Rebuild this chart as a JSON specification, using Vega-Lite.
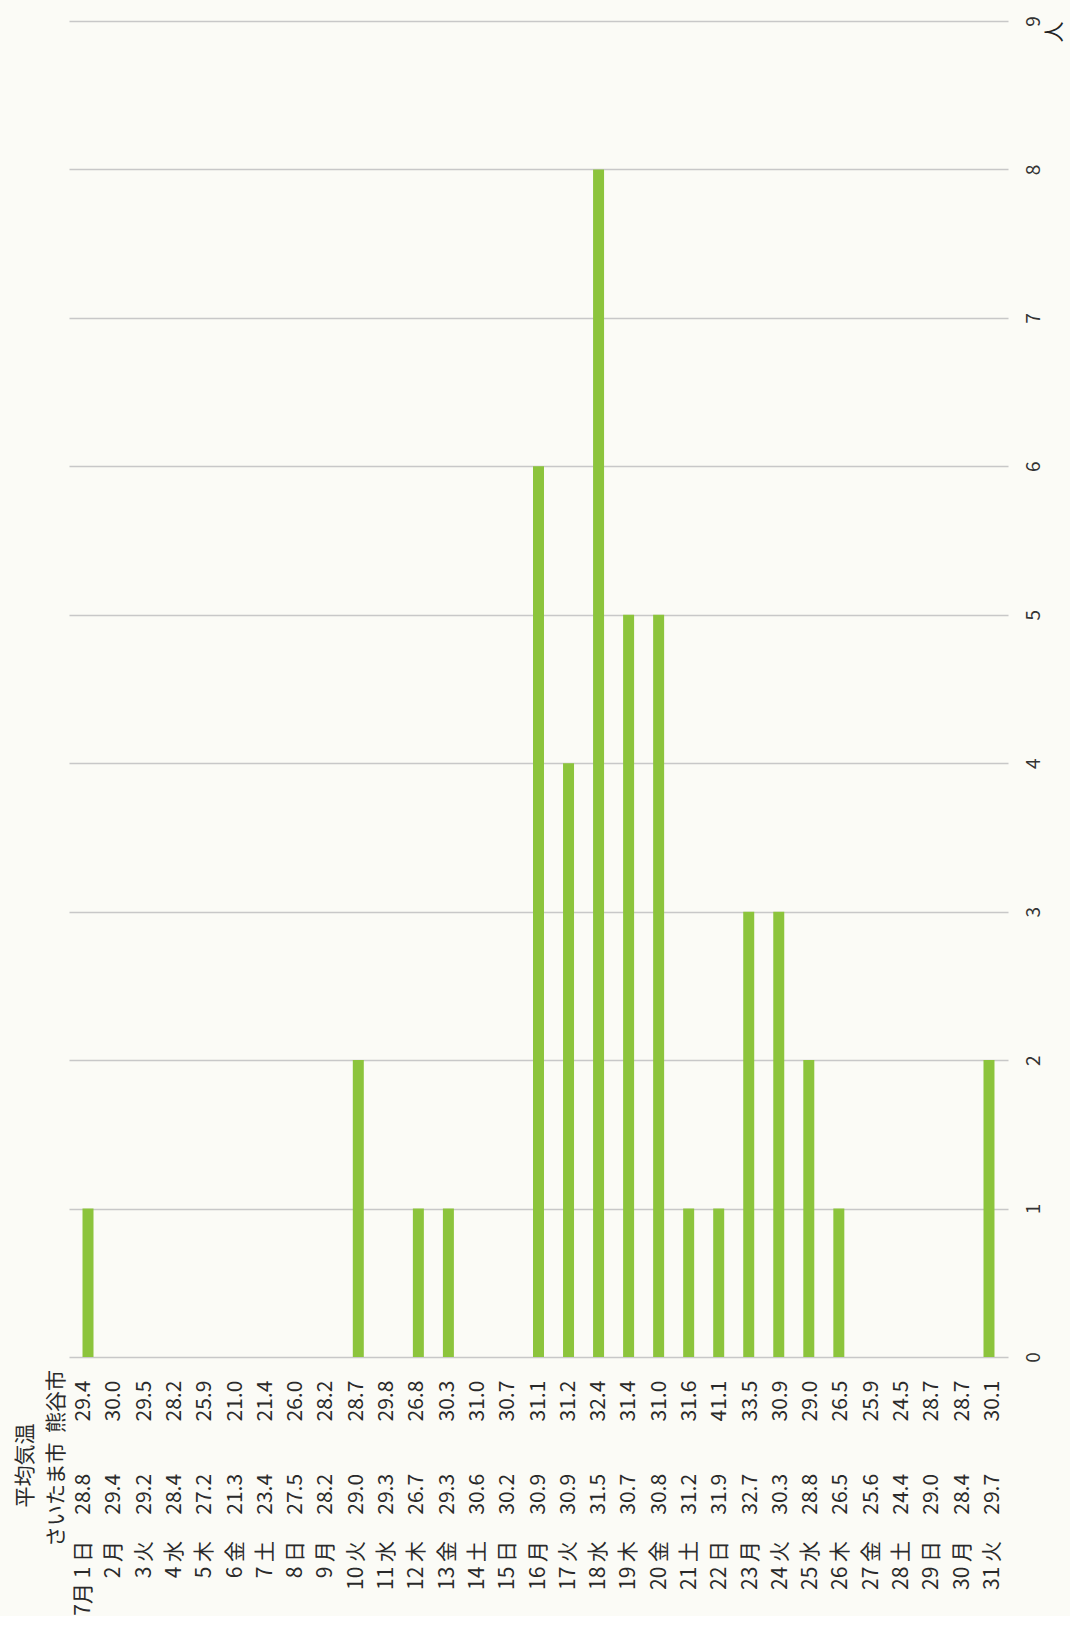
{
  "$schema": "https://vega.github.io/schema/vega-lite/v6.json",
  "background": "#fbfbf6",
  "padding": {"left": 13, "top": 15, "right": 8, "bottom": 0},
  "bounds": "flush",
  "spacing": 0,
  "config": {"view": {"stroke": null}, "font": "Noto Sans CJK JP"},
  "data": {"values": [
    {"d": 1, "label": "7月 1 日", "n": 1, "さいたま市": 28.8, "熊谷市": 29.4},
    {"d": 2, "label": "2 月", "n": 0, "さいたま市": 29.4, "熊谷市": 30.0},
    {"d": 3, "label": "3 火", "n": 0, "さいたま市": 29.2, "熊谷市": 29.5},
    {"d": 4, "label": "4 水", "n": 0, "さいたま市": 28.4, "熊谷市": 28.2},
    {"d": 5, "label": "5 木", "n": 0, "さいたま市": 27.2, "熊谷市": 25.9},
    {"d": 6, "label": "6 金", "n": 0, "さいたま市": 21.3, "熊谷市": 21.0},
    {"d": 7, "label": "7 土", "n": 0, "さいたま市": 23.4, "熊谷市": 21.4},
    {"d": 8, "label": "8 日", "n": 0, "さいたま市": 27.5, "熊谷市": 26.0},
    {"d": 9, "label": "9 月", "n": 0, "さいたま市": 28.2, "熊谷市": 28.2},
    {"d": 10, "label": "10 火", "n": 2, "さいたま市": 29.0, "熊谷市": 28.7},
    {"d": 11, "label": "11 水", "n": 0, "さいたま市": 29.3, "熊谷市": 29.8},
    {"d": 12, "label": "12 木", "n": 1, "さいたま市": 26.7, "熊谷市": 26.8},
    {"d": 13, "label": "13 金", "n": 1, "さいたま市": 29.3, "熊谷市": 30.3},
    {"d": 14, "label": "14 土", "n": 0, "さいたま市": 30.6, "熊谷市": 31.0},
    {"d": 15, "label": "15 日", "n": 0, "さいたま市": 30.2, "熊谷市": 30.7},
    {"d": 16, "label": "16 月", "n": 6, "さいたま市": 30.9, "熊谷市": 31.1},
    {"d": 17, "label": "17 火", "n": 4, "さいたま市": 30.9, "熊谷市": 31.2},
    {"d": 18, "label": "18 水", "n": 8, "さいたま市": 31.5, "熊谷市": 32.4},
    {"d": 19, "label": "19 木", "n": 5, "さいたま市": 30.7, "熊谷市": 31.4},
    {"d": 20, "label": "20 金", "n": 5, "さいたま市": 30.8, "熊谷市": 31.0},
    {"d": 21, "label": "21 土", "n": 1, "さいたま市": 31.2, "熊谷市": 31.6},
    {"d": 22, "label": "22 日", "n": 1, "さいたま市": 31.9, "熊谷市": 41.1},
    {"d": 23, "label": "23 月", "n": 3, "さいたま市": 32.7, "熊谷市": 33.5},
    {"d": 24, "label": "24 火", "n": 3, "さいたま市": 30.3, "熊谷市": 30.9},
    {"d": 25, "label": "25 水", "n": 2, "さいたま市": 28.8, "熊谷市": 29.0},
    {"d": 26, "label": "26 木", "n": 1, "さいたま市": 26.5, "熊谷市": 26.5},
    {"d": 27, "label": "27 金", "n": 0, "さいたま市": 25.6, "熊谷市": 25.9},
    {"d": 28, "label": "28 土", "n": 0, "さいたま市": 24.4, "熊谷市": 24.5},
    {"d": 29, "label": "29 日", "n": 0, "さいたま市": 29.0, "熊谷市": 28.7},
    {"d": 30, "label": "30 月", "n": 0, "さいたま市": 28.4, "熊谷市": 28.7},
    {"d": 31, "label": "31 火", "n": 2, "さいたま市": 29.7, "熊谷市": 30.1}
  ]},
  "vconcat": [
    {
      "width": 939,
      "height": 1336,
      "mark": {"type": "bar", "color": "#8cc43c"},
      "encoding": {
        "x": {"field": "d", "type": "ordinal", "scale": {"paddingInner": 0.634, "paddingOuter": 0.45}, "axis": null},
        "y": {
          "field": "n", "type": "quantitative",
          "scale": {"domain": [0, 9], "nice": false},
          "axis": {
            "orient": "right", "values": [0, 1, 2, 3, 4, 5, 6, 7, 8, 9],
            "grid": true, "gridColor": "#c8c8c8", "gridWidth": 1.3,
            "domain": false, "ticks": false,
            "labelAngle": -90, "labelAlign": "center", "labelBaseline": "top",
            "labelPadding": 16, "labelFontSize": 19, "labelColor": "#333333",
            "title": "人", "titleAngle": -90, "titleAnchor": "end", "titleAlign": "right",
            "titleBaseline": "top", "titlePadding": 0, "titleFontSize": 21,
            "titleFontWeight": "normal", "titleColor": "#222222"
          }
        }
      }
    },
    {
      "width": 939,
      "height": 228,
      "layer": [
        {
          "transform": [{"fold": ["さいたま市", "熊谷市"], "as": ["row", "temp"]}],
          "mark": {"type": "text", "angle": -90, "fontSize": 21, "color": "#2a2a2a", "align": "center", "baseline": "middle"},
          "encoding": {
            "x": {"field": "d", "type": "ordinal", "scale": {"paddingInner": 0.634, "paddingOuter": 0.45}, "axis": null},
            "y": {
              "field": "row", "type": "ordinal",
              "scale": {"type": "point", "domain": ["熊谷市", " ", "さいたま市", "日付"], "padding": 0.946},
              "axis": {
                "orient": "left", "labelExpr": "datum.value === '日付' ? '' : datum.value",
                "domain": false, "ticks": false, "grid": false,
                "labelAngle": -90, "labelAlign": "center", "labelBaseline": "bottom",
                "labelPadding": 3, "labelFontSize": 21, "labelColor": "#2a2a2a",
                "title": "平均気温", "titleAngle": -90, "titleFontSize": 21,
                "titleFontWeight": "normal", "titleColor": "#2a2a2a", "titlePadding": 10,
                "titleY": 108, "titleAlign": "center", "titleBaseline": "bottom"
              }
            },
            "text": {"field": "temp", "type": "quantitative", "format": ".1f"}
          }
        },
        {
          "mark": {"type": "text", "angle": -90, "fontSize": 21, "color": "#2a2a2a", "align": "right", "baseline": "middle"},
          "encoding": {
            "x": {"field": "d", "type": "ordinal"},
            "y": {"datum": "日付", "type": "ordinal"},
            "text": {"field": "label", "type": "nominal"}
          }
        }
      ]
    }
  ]
}
